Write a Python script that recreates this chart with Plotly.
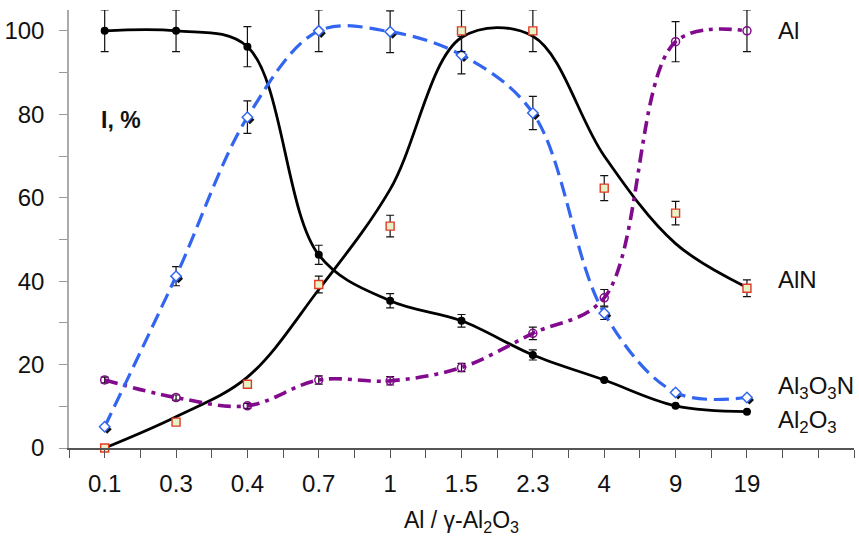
import plotly.graph_objects as go

# ---------------- data ----------------
categories = ["0.1", "0.3", "0.4", "0.7", "1", "1.5", "2.3", "4", "9", "19"]

al2o3 = [100, 100, 96.2, 46.3, 35.3, 30.5, 22.3, 16.3, 10.1, 8.7]
al2o3_err = [5, 5, 4.8, 2.3, 1.7, 1.5, 1.2, None, None, None]

al3o3n = [5.1, 41.2, 79.3, 100, 99.8, 94.2, 80.3, 32.3, 13.3, 12.1]
al3o3n_err = [None, 2.3, 3.9, 5, 5, 4.5, 4, 1.5, None, None]

aln = [0, 6.2, 15.3, 39.2, 53.2, 100, 100, 62.3, 56.3, 38.3]
aln_err = [None, None, None, 2, 2.6, 5, 5, 3, 2.8, 2]
aln_curve = [0, 7.5, 17, 38, 62, 98.4, 98.7, 70, 49, 38.5]

al = [16.3, 12.1, 10.1, 16.3, 16.1, 19.3, 27.5, 36, 97.4, 100]
al_err = [0.7, 0.6, 0.6, 1, 1, 1, 1.5, 2, 4.8, 5]

y_tick_vals = [0, 20, 40, 60, 80, 100]
y_tick_text = ["0", "20", "40", "60", "80", "100"]

series_labels = ["Al", "AlN", "Al<sub>3</sub>O<sub>3</sub>N", "Al<sub>2</sub>O<sub>3</sub>"]
label_y = [100, 40.3, 14.6, 6.3]

x_title = "Al / γ-Al<sub>2</sub>O<sub>3</sub>"
y_label = "<b>I, %</b>"

# ---------------- positions ----------------
xi = list(range(len(categories)))

FONT = "Arial, Liberation Sans, sans-serif"
BLUE = "#3366f0"
PURPLE = "#820a8c"
RED = "#e03a26"


def ebar(arr):
    return dict(type="data", array=arr, visible=True, color="#111", thickness=1.2, width=4)


fig = go.Figure()

# shadow black diamonds (base axes, shifted slightly)
fig.add_trace(go.Scatter(x=xi, y=al3o3n, mode="markers", xaxis="x", yaxis="y",
                         marker=dict(symbol="diamond", size=7, color="#111"),
                         cliponaxis=False, showlegend=False, hoverinfo="skip"))

# AlN trend curve
fig.add_trace(go.Scatter(x=xi, y=aln_curve, mode="lines", xaxis="x2", yaxis="y2",
                         line=dict(color="#000", width=2.8, shape="spline", smoothing=1.0),
                         cliponaxis=False, showlegend=False))
# Al2O3
fig.add_trace(go.Scatter(x=xi, y=al2o3, mode="lines+markers", xaxis="x2", yaxis="y2",
                         line=dict(color="#000", width=2.8, shape="spline", smoothing=1.0),
                         marker=dict(symbol="circle", size=8, color="#000"),
                         error_y=ebar(al2o3_err), cliponaxis=False, showlegend=False))
# Al (purple dash-dot)
fig.add_trace(go.Scatter(x=xi, y=al, mode="lines+markers", xaxis="x2", yaxis="y2",
                         line=dict(color=PURPLE, width=3.6, shape="spline", smoothing=1.0,
                                   dash="13px,6px,4px,6px"),
                         marker=dict(symbol="circle-open", size=8, color=PURPLE, line=dict(width=1.5)),
                         error_y=ebar(al_err), cliponaxis=False, showlegend=False))
# Al3O3N (blue dashed)
fig.add_trace(go.Scatter(x=xi, y=al3o3n, mode="lines+markers", xaxis="x2", yaxis="y2",
                         line=dict(color=BLUE, width=3.2, shape="spline", smoothing=1.0,
                                   dash="15px,7px"),
                         marker=dict(symbol="diamond", size=8, color="white",
                                     line=dict(color=BLUE, width=1.5)),
                         error_y=ebar(al3o3n_err), cliponaxis=False, showlegend=False))
# AlN points
fig.add_trace(go.Scatter(x=xi, y=aln, mode="markers", xaxis="x2", yaxis="y2",
                         marker=dict(symbol="square", size=8, color="#e4f4c8",
                                     line=dict(color=RED, width=1.4)),
                         error_y=ebar(aln_err), cliponaxis=False, showlegend=False))

annotations = []
for txt, yv in zip(series_labels, label_y):
    annotations.append(dict(x=9.4, y=yv, xref="x2", yref="y2", text=txt, showarrow=False,
                            xanchor="left", yanchor="middle",
                            font=dict(family=FONT, size=24, color="#111")))
annotations.append(dict(x=-0.08, y=78.6, xref="x2", yref="y2", text=y_label, showarrow=False,
                        xanchor="left", yanchor="middle",
                        font=dict(family=FONT, size=23, color="#111")))
annotations.append(dict(x=0.5, y=-0.167, xref="paper", yref="paper", text=x_title, showarrow=False,
                        xanchor="center", yanchor="middle",
                        font=dict(family=FONT, size=23, color="#111")))

x_range = [-0.5, len(categories) + 0.5]
y_range = [0, 105]
dx = 0.035
dy = 0.6

fig.update_layout(
    width=859, height=541,
    margin=dict(l=69, r=5, t=10, b=93),
    paper_bgcolor="white", plot_bgcolor="white",
    font=dict(family=FONT, size=24, color="#111"),
    showlegend=False,
    annotations=annotations,
    xaxis=dict(range=[x_range[0] - dx, x_range[1] - dx], visible=False, fixedrange=True),
    yaxis=dict(range=[y_range[0] + dy, y_range[1] + dy], visible=False, fixedrange=True),
    xaxis2=dict(overlaying="x", anchor="y2", range=x_range, tickmode="array",
                tickvals=xi, ticktext=categories, ticks="outside", ticklen=8,
                tickcolor="#555", tickwidth=1.2, showline=True, linecolor="#555", linewidth=1.5,
                showgrid=False, zeroline=False, tickfont=dict(size=24), ticklabelstandoff=5,
                minor=dict(tickmode="linear", tick0=-0.5, dtick=0.5, ticks="outside", ticklen=8,
                           tickcolor="#555", tickwidth=1.2, showgrid=False)),
    yaxis2=dict(overlaying="y", anchor="x2", range=y_range, tickmode="array",
                tickvals=y_tick_vals, ticktext=y_tick_text, ticks="outside", ticklen=8,
                tickcolor="#999", tickwidth=1.2, showline=True, linecolor="#aaa", linewidth=1.5,
                showgrid=False, zeroline=False, tickfont=dict(size=24), ticklabelstandoff=10,
                minor=dict(tickmode="linear", tick0=0, dtick=10, ticks="outside", ticklen=8,
                           tickcolor="#999", tickwidth=1.2, showgrid=False)),
)

fig.write_html("out.html")
